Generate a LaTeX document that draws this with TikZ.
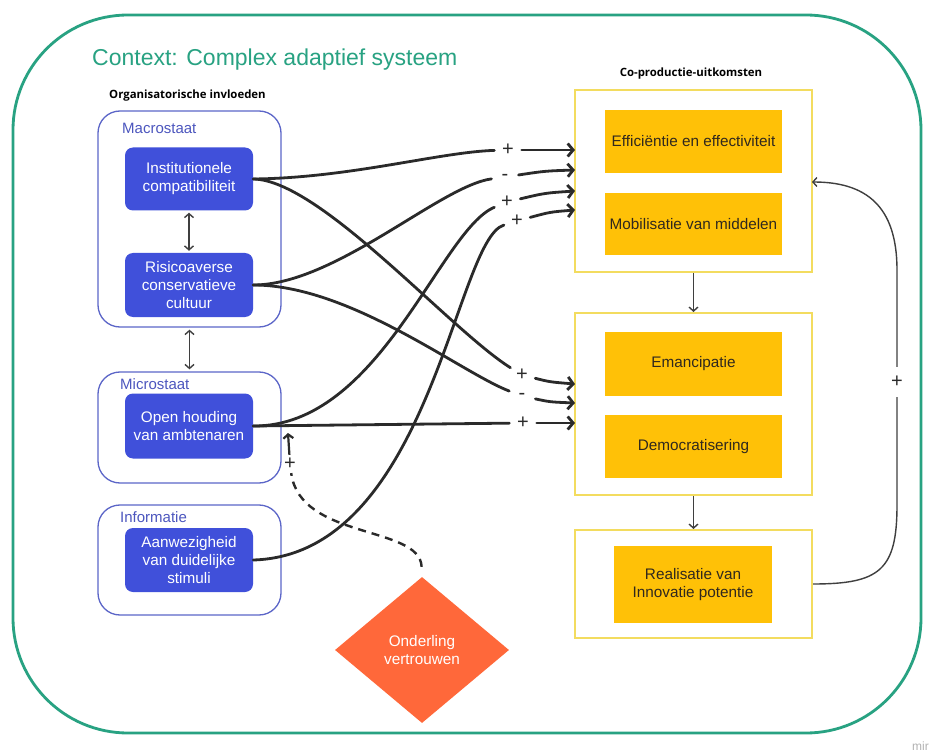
\documentclass[tikz,border=0pt]{standalone}
\usepackage{fontspec}
\setmainfont{Liberation Sans}
\newfontfamily\headfont{Open Sans}
\usetikzlibrary{arrows.meta,shapes.geometric}

\definecolor{ctxgreen}{RGB}{40,162,130}
\definecolor{nodeblue}{RGB}{64,80,218}
\definecolor{groupline}{RGB}{92,102,200}
\definecolor{grouptext}{RGB}{76,86,190}
\definecolor{outyellow}{RGB}{255,193,7}
\definecolor{yellowline}{RGB}{243,220,95}
\definecolor{trustorange}{RGB}{255,104,58}
\definecolor{ink}{RGB}{42,42,42}
\definecolor{darktext}{RGB}{48,40,30}

\tikzset{
  txt/.style={font=\fontsize{15.3}{18}\selectfont},
  bluebox/.style={txt, rectangle, rounded corners=8pt, fill=nodeblue, text=white,
    minimum width=128pt, align=center, inner sep=0pt},
  groupbox/.style={rectangle, rounded corners=22pt, draw=groupline, line width=1.3pt,
    minimum width=183pt, inner sep=0pt},
  grouplabel/.style={font=\fontsize{15}{17}\selectfont, text=grouptext, anchor=west, inner sep=0pt},
  outbox/.style={rectangle, draw=yellowline, line width=2pt, minimum width=237pt, inner sep=0pt},
  outcome/.style={txt, rectangle, fill=outyellow, text=darktext, align=center,
    minimum width=177pt, inner sep=0pt},
  heading/.style={font=\headfont\bfseries\fontsize{11.4}{13}\selectfont, text=black, inner sep=0pt},
  sign/.style={circle, minimum size=27pt, inner sep=0pt, font=\fontsize{20}{20}\selectfont, text=ink},
  conn/.style={draw=ink, line width=2.8pt, line cap=round},
  connarrow/.style={conn, -{Straight Barb[length=5.5pt,width=13pt]}},
  thinarrow/.style={draw=ink!90, line width=1.4pt, -{Straight Barb[length=4pt,width=9pt]}},
  twoway/.style={draw=ink!90, line width=1.4pt, {Straight Barb[length=4pt,width=9pt]}-{Straight Barb[length=4pt,width=9pt]}},
}

\begin{document}
\begin{tikzpicture}[x=1pt,y=-1pt]
\useasboundingbox (0,0) rectangle (935,754);
\fill[white] (0,0) rectangle (935,754);

% context frame and title
\draw[ctxgreen, line width=2.8pt, rounded corners=115pt] (13,15) rectangle (921,733);
\node[font=\fontsize{23}{26}\selectfont, text=ctxgreen, anchor=west, inner sep=0pt] (title) at (92,60) {Context: Complex adaptief systeem};

% headings
\node[heading, anchor=west] (orghead) at (109,96) {Organisatorische invloeden};
\node[heading] (outhead) at (691,74) {Co-productie-uitkomsten};

% organisational groups
\node[groupbox, minimum height=216pt] (macro) at (189.5,219) {};
\node[groupbox, minimum height=111pt] (micro) at (189.5,427.5) {};
\node[groupbox, minimum height=110pt] (info) at (189.5,560) {};
\node[grouplabel] (macrolab) at (122,128) {Macrostaat};
\node[grouplabel] (microlab) at (120,384) {Microstaat};
\node[grouplabel] (infolab) at (120,517) {Informatie};

\node[bluebox, minimum height=63pt] (inst) at (189,179) {Institutionele\\compatibiliteit};
\node[bluebox, minimum height=64pt] (risk) at (189,285) {Risicoaverse\\conservatieve\\cultuur};
\node[bluebox, minimum height=65pt] (open) at (189,426) {Open houding\\van ambtenaren};
\node[bluebox, minimum height=64pt] (aan) at (189,560) {Aanwezigheid\\van duidelijke\\stimuli};

\draw[twoway, shorten <=2pt, shorten >=2pt] (inst.south) -- (risk.north);
\draw[twoway, shorten <=2pt, shorten >=2pt] (macro.south) -- (micro.north);

% outcome groups
\node[outbox, minimum height=182pt] (box1) at (693.5,181) {};
\node[outbox, minimum height=182pt] (box2) at (693.5,404) {};
\node[outbox, minimum height=108pt] (box3) at (693.5,584) {};

\node[outcome, minimum height=63pt] (eff) at (693.5,141.5) {Efficiëntie en effectiviteit};
\node[outcome, minimum height=62pt] (mob) at (693.5,224) {Mobilisatie van middelen};
\node[outcome, minimum height=64pt] (ema) at (693.5,364) {Emancipatie};
\node[outcome, minimum height=63pt] (dem) at (693.5,446.5) {Democratisering};
\node[outcome, minimum height=77pt, minimum width=158pt] (real) at (693,584.5) {Realisatie van\\Innovatie potentie};

\draw[thinarrow] (box1.south) -- (box2.north);
\draw[thinarrow] (box2.south) -- (box3.north);

% entry points on the outcome groups
\coordinate (in1) at (575,150);
\coordinate (in3) at (575,170);
\coordinate (in5) at (575,191);
\coordinate (in7) at (575,210);
\coordinate (in2) at (575,384);
\coordinate (in4) at (575,403);
\coordinate (in6) at (575,423);

% effect signs
\node[sign] (s1) at (508,150) {+};
\node[sign] (s3) at (505,177) {-};
\node[sign] (s5) at (507,202) {+};
\node[sign] (s7) at (517,221) {+};
\node[sign] (s2) at (522,375) {+};
\node[sign] (s4) at (522,396) {-};
\node[sign] (s6) at (523,423) {+};

% influences
\draw[conn] (inst.east) .. controls (350,178) and (440,152) .. (s1);
\draw[connarrow] (s1) -- (in1);

\draw[conn] (inst.east) .. controls (320,180) and (449,329) .. (s2);
\draw[connarrow] (s2) .. controls (550,382) .. (in2);

\draw[conn] (risk.east) .. controls (335,285) and (440,186) .. (s3);
\draw[connarrow] (s3) .. controls (545,171) .. (in3);

\draw[conn] (risk.east) .. controls (350,285) and (460,372) .. (s4);
\draw[connarrow] (s4) .. controls (550,402) .. (in4);

\draw[conn] (open.east) .. controls (380,427) and (440,230) .. (s5);
\draw[connarrow] (s5) .. controls (545,193) .. (in5);

\draw[conn] (open.east) -- (s6);
\draw[connarrow] (s6) -- (in6);

\draw[conn] (aan.east) .. controls (430,555) and (455,240) .. (s7);
\draw[connarrow] (s7) .. controls (550,212) .. (in7);

% mutual trust
\node[diamond, fill=trustorange, minimum width=174pt, minimum height=146pt, inner sep=0pt,
  text=white, align=center, font=\fontsize{15.3}{18}\selectfont] (trust) at (422,650) {Onderling\\vertrouwen};
\coordinate (trustin) at (288,433);
\node[sign, minimum size=18pt] (s8) at (290,464) {+};
\draw[draw=ink, line width=2.4pt, dash pattern=on 8pt off 6pt, shorten <=10pt]
  (trust.north) .. controls (420,525) and (300,540) .. (s8);
\draw[draw=ink, line width=2.2pt, -{Straight Barb[length=4pt,width=10pt]}] (s8) -- (trustin);

% feedback from innovation to the first outcomes
\coordinate (fbin) at (812,182);
\node[sign, minimum size=30pt] (s9) at (897,382) {+};
\draw[draw=ink!90, line width=1.4pt] (box3.east) .. controls (880,584) and (897,570) .. (897,505) -- (s9);
\draw[thinarrow] (s9) -- (897,270) .. controls (897,205) and (865,182) .. (fbin);

% board watermark
\node[font=\fontsize{12}{12}\selectfont, text=black!30, anchor=west, inner sep=0pt] (mark) at (912,746) {mir};
\end{tikzpicture}
\end{document}
